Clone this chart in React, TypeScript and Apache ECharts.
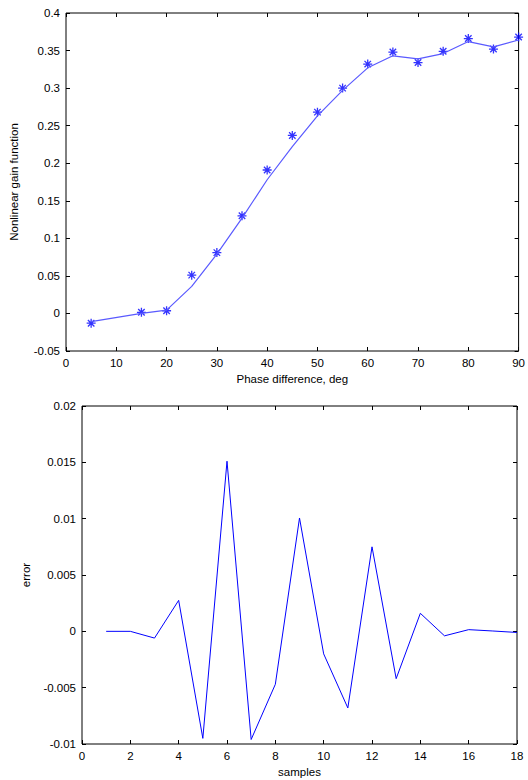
import React, { useEffect, useRef } from "react";
import * as echarts from "echarts";

const phaseDeg = [5, 15, 20, 25, 30, 35, 40, 45, 50, 55, 60, 65, 70, 75, 80, 85, 90];
const gainMeasured = [-0.013, 0.0015, 0.0036, 0.051, 0.081, 0.13, 0.191, 0.237, 0.268, 0.3, 0.332, 0.348, 0.334, 0.349, 0.366, 0.352, 0.368];
const gainFitted = [-0.011, 0.0, 0.0045, 0.036, 0.079, 0.127, 0.178, 0.222, 0.263, 0.297, 0.327, 0.343, 0.339, 0.346, 0.362, 0.355, 0.364];

const samples = [1, 2, 3, 4, 5, 6, 7, 8, 9, 10, 11, 12, 13, 14, 15, 16, 17, 18];
const errorValues = [0, 0, -0.0006, 0.00275, -0.0095, 0.0151, -0.0096, -0.0047, 0.01006, -0.002, -0.0068, 0.0075, -0.0042, 0.0016, -0.0004, 0.00015, 0.00003, -0.0001];

const FONT = "Liberation Sans, Arial, sans-serif";
const STAR = "path://M0,-5L0,5M-5,0L5,0M-3.6,-3.6L3.6,3.6M-3.6,3.6L3.6,-3.6";

function mkAxis(base: any, extra: any) {
  return Object.assign(
    {
      axisLine: { show: false, onZero: false },
      axisTick: { show: true, inside: true, length: 4, lineStyle: { color: "#000", width: 1 } },
      splitLine: { show: false },
      axisLabel: { color: "#000", fontSize: 11.5, fontFamily: FONT, margin: 6 },
      nameTextStyle: { color: "#000", fontSize: 11.5, fontFamily: FONT },
    },
    base,
    extra
  );
}

export default function App() {
  const ref = useRef<HTMLDivElement>(null);
  useEffect(() => {
    document.body.style.margin = "0";
    const chart = echarts.init(ref.current!, undefined, { renderer: "svg" });
    const hidden = { axisLabel: { show: false } };
    const x1 = { type: "value", min: 0, max: 90, interval: 10, gridIndex: 0 };
    const y1 = { type: "value", min: -0.05, max: 0.4, interval: 0.05, gridIndex: 0 };
    const x2 = { type: "value", min: 0, max: 18, interval: 2, gridIndex: 1 };
    const y2 = { type: "value", min: -0.01, max: 0.02, interval: 0.005, gridIndex: 1 };
    chart.setOption({
      animation: false,
      backgroundColor: "#fff",
      grid: [
        { left: 66, top: 13, width: 456, height: 338, show: true, borderColor: "#000", borderWidth: 1, backgroundColor: "#fff" },
        { left: 82, top: 406, width: 435, height: 338, show: true, borderColor: "#000", borderWidth: 1, backgroundColor: "#fff" },
      ],
      xAxis: [
        mkAxis(x1, { position: "bottom", name: "Phase difference, deg", nameLocation: "middle", nameGap: 22 }),
        mkAxis(x1, { position: "top", ...hidden }),
        mkAxis(x2, { position: "bottom", name: "samples", nameLocation: "middle", nameGap: 22 }),
        mkAxis(x2, { position: "top", ...hidden }),
      ],
      yAxis: [
        mkAxis(y1, { position: "left", name: "Nonlinear gain function", nameLocation: "middle", nameGap: 46 }),
        mkAxis(y1, { position: "right", ...hidden }),
        mkAxis(y2, { position: "left", name: "error", nameLocation: "middle", nameGap: 50 }),
        mkAxis(y2, { position: "right", ...hidden }),
      ],
      series: [
        {
          type: "line",
          xAxisIndex: 0,
          yAxisIndex: 0,
          data: phaseDeg.map((x, i) => [x, gainFitted[i]]),
          showSymbol: false,
          symbol: "none",
          lineStyle: { color: "#5a5aff", width: 1.2 },
        },
        {
          type: "scatter",
          xAxisIndex: 0,
          yAxisIndex: 0,
          data: phaseDeg.map((x, i) => [x, gainMeasured[i]]),
          symbol: STAR,
          symbolSize: 9,
          itemStyle: { color: "rgba(0,0,0,0)", borderColor: "#0000ff", borderWidth: 1.3 },
        },
        {
          type: "line",
          xAxisIndex: 2,
          yAxisIndex: 2,
          data: samples.map((x, i) => [x, errorValues[i]]),
          showSymbol: false,
          symbol: "none",
          lineStyle: { color: "#0000ff", width: 1 },
        },
      ],
    });
    return () => chart.dispose();
  }, []);
  return <div ref={ref} style={{ width: 528, height: 780 }} />;
}
